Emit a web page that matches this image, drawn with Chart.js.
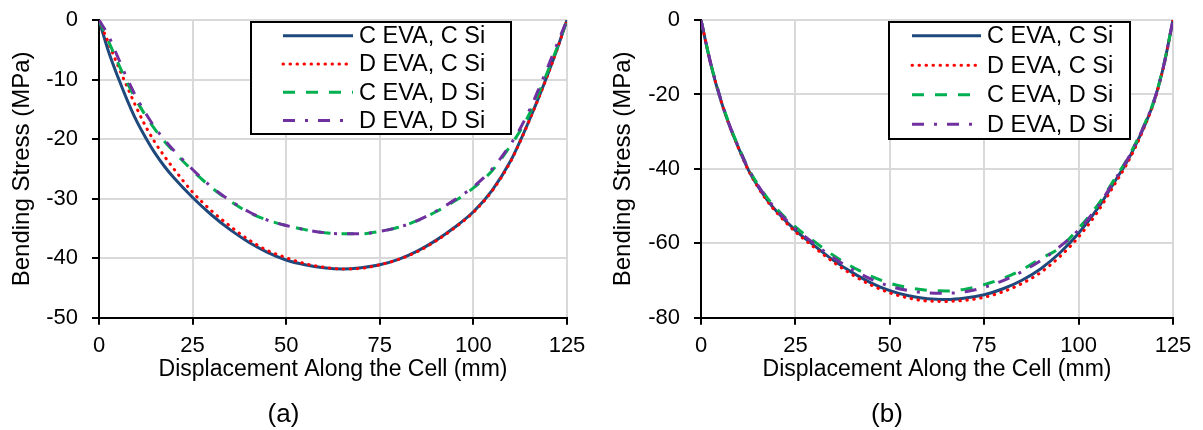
<!DOCTYPE html>
<html>
<head>
<meta charset="utf-8">
<script src="https://cdn.jsdelivr.net/npm/chart.js@4/dist/chart.umd.min.js"></script>
<style>
    body { margin: 0; background: #fff; width: 1203px; height: 430px; overflow: hidden; }
    canvas { position: absolute; top: 0; }
</style>
</head>
<body>
<canvas id="graficaA" width="601" height="430" style="left:0"></canvas>
<canvas id="graficaB" width="602" height="430" style="left:601px"></canvas>
<script>
// posiciones a lo largo de la celda (mm)
let desplazamiento = [0, 2.5, 5, 7.5, 10, 12.5, 15, 17.5, 20, 25, 30, 35, 40, 45, 50, 55, 60, 65, 70, 75, 80, 85, 90, 95, 100, 105, 110, 112.5, 115, 117.5, 120, 122.5, 125];

let etiquetas = ["C EVA, C Si", "D EVA, C Si", "C EVA, D Si", "D EVA, D Si"];

// (a) esfuerzo de flexion (MPa)
let aCEvaCSi = [0, -5.2, -9.5, -13.4, -16.9, -19.8, -22.4, -24.6, -26.5, -29.8, -32.7, -35.2, -37.3, -39, -40.3, -41.1, -41.6, -41.8, -41.6, -41.1, -40.2, -38.8, -37, -34.8, -32.2, -28.6, -23.6, -20.3, -16.7, -12.9, -8.9, -4.6, 0];
let aDEvaCSi = [0, -3.8, -7.6, -11.2, -14.7, -17.9, -20.6, -22.9, -25, -28.9, -32, -34.6, -36.9, -38.7, -39.9, -40.9, -41.5, -41.8, -41.7, -41.1, -40.2, -38.9, -37.1, -34.9, -32.3, -28.7, -23.7, -20.4, -16.8, -13, -9, -4.7, 0];
let aCEvaDSi = [0, -3.5, -7.1, -10.5, -13.5, -16.1, -18.4, -20.4, -22.1, -25.3, -28.1, -30.4, -32.3, -33.6, -34.5, -35.2, -35.7, -35.9, -35.9, -35.5, -34.8, -33.7, -32.2, -30.4, -28.2, -25.3, -21, -18.6, -15.7, -12.2, -8.4, -4.4, 0];
let aDEvaDSi = [0, -2.6, -6.2, -9.8, -13, -15.7, -18.1, -20.1, -21.9, -25.1, -28, -30.3, -32.2, -33.6, -34.5, -35.2, -35.7, -35.9, -35.9, -35.5, -34.8, -33.7, -32.1, -30.2, -28, -25, -20.8, -18.2, -15.1, -11.5, -7.7, -3.8, 0];

// (b) esfuerzo de flexion (MPa)
let bCEvaCSi = [0, -11.5, -20.8, -28.3, -34.5, -40.2, -44.6, -48.3, -51.4, -56.5, -60.6, -64.5, -67.8, -70.6, -72.7, -74.1, -74.9, -75.1, -74.7, -73.8, -72.2, -69.9, -66.8, -62.6, -57.3, -50.7, -42.7, -38.6, -33.8, -28.3, -21.8, -12.5, 0];
let bDEvaCSi = [0, -11.4, -20.7, -28.3, -34.6, -40.3, -44.8, -48.6, -51.7, -56.9, -61.1, -65, -68.4, -71.2, -73.3, -74.7, -75.5, -75.6, -75.3, -74.5, -73, -70.8, -67.8, -63.6, -58.3, -51.6, -43.4, -39.2, -34.3, -28.6, -22, -12.6, 0];
let bCEvaDSi = [0, -11.3, -20.5, -28, -34.2, -39.8, -44.1, -47.7, -50.7, -55.6, -59.5, -63.2, -66.3, -68.8, -70.7, -71.9, -72.6, -72.8, -72.3, -71.1, -69.4, -67.1, -64.1, -61.2, -56, -49.8, -42, -38, -33.3, -27.9, -21.5, -12.3, 0];
let bDEvaDSi = [0, -11.3, -20.5, -28.1, -34.3, -39.9, -44.3, -47.9, -51, -56, -60.1, -63.8, -67, -69.6, -71.5, -72.7, -73.3, -73.4, -73, -71.8, -70, -67.6, -64.6, -60.9, -56.4, -50.2, -42.3, -38.2, -33.5, -28, -21.6, -12.4, 0];

let ticksX = [0, 25, 50, 75, 100, 125];
let ticksA = [0, -10, -20, -30, -40, -50];
let ticksB = [0, -20, -40, -60, -80];

Chart.defaults.font.family = '"Liberation Sans", Arial, sans-serif';
Chart.defaults.color = '#000';

const estilos = [
    { borderColor: '#1F497D', borderDash: [], borderCapStyle: 'butt', order: 4 },
    { borderColor: '#FF0000', borderDash: [0.5, 6.5], borderCapStyle: 'round', order: 3 },
    { borderColor: '#00B050', borderDash: [12, 11], borderCapStyle: 'butt', order: 2 },
    { borderColor: '#7030A0', borderDash: [12, 10, 3, 10], borderCapStyle: 'butt', order: 1 }
];

// leyenda con marco, dibujada dentro del area
const cajaLeyenda = {
    id: 'cajaLeyenda',
    afterDraw(chart, args, o) {
        const ctx = chart.ctx;
        ctx.save();
        ctx.fillStyle = '#fff';
        ctx.fillRect(o.x, o.y, o.w, o.h);
        ctx.lineWidth = 2;
        ctx.strokeStyle = '#000';
        ctx.strokeRect(o.x, o.y, o.w, o.h);
        chart.data.datasets.forEach((ds, i) => {
            let y = o.y + o.first + i * o.step;
            ctx.beginPath();
            ctx.setLineDash(ds.borderDash);
            ctx.lineCap = ds.borderCapStyle;
            ctx.lineWidth = ds.borderWidth;
            ctx.strokeStyle = ds.borderColor;
            ctx.moveTo(o.lineX, y);
            ctx.lineTo(o.lineX + o.lineW, y);
            ctx.stroke();
            ctx.setLineDash([]);
            ctx.fillStyle = '#000';
            ctx.font = '23.5px "Liberation Sans", Arial, sans-serif';
            ctx.textBaseline = 'middle';
            ctx.fillText(ds.label, o.textX, y + 1);
        });
        ctx.restore();
    }
};

function crearGrafica(id, series, ticksY, letra, anchoY, derecha, leyenda) {
    const ctx = document.getElementById(id).getContext('2d');
    return new Chart(ctx, {
        type: 'line',
        data: {
            datasets: series.map((s, i) => Object.assign({
                label: etiquetas[i],
                data: desplazamiento.map((x, j) => ({ x: x, y: s[j] })),
                borderWidth: 3,
                pointRadius: 0,
                fill: false,
                tension: 0.4,
                cubicInterpolationMode: 'monotone'
            }, estilos[i]))
        },
        options: {
            responsive: false,
            animation: false,
            layout: { padding: { left: 0, right: derecha, top: 20, bottom: 0 } },
            plugins: {
                legend: { display: false },
                tooltip: { enabled: false },
                title: {
                    display: true,
                    position: 'bottom',
                    text: letra,
                    font: { size: 26, weight: 'normal' },
                    padding: { top: 0, bottom: 0 }
                },
                cajaLeyenda: leyenda
            },
            scales: {
                x: {
                    type: 'linear',
                    min: ticksX[0],
                    max: ticksX[ticksX.length - 1],
                    afterBuildTicks: s => { s.ticks = ticksX.map(v => ({ value: v })); },
                    ticks: { padding: 8, font: { size: 22 } },
                    grid: { color: '#D9D9D9', lineWidth: 2, tickLength: 7, tickColor: '#000', tickWidth: 2 },
                    border: { color: '#000', width: 2 },
                    title: {
                        display: true,
                        text: 'Displacement Along the Cell (mm)',
                        font: { size: 23 },
                        padding: { top: 0, bottom: 15 }
                    },
                    afterFit: s => { s.height = 81; s.paddingLeft = 0; s.paddingRight = 0; }
                },
                y: {
                    min: ticksY[ticksY.length - 1],
                    max: ticksY[0],
                    afterBuildTicks: s => { s.ticks = ticksY.map(v => ({ value: v })); },
                    ticks: { padding: 14, font: { size: 22 } },
                    grid: { color: '#D9D9D9', lineWidth: 2, tickLength: 7, tickColor: '#000', tickWidth: 2 },
                    border: { color: '#000', width: 2 },
                    title: {
                        display: true,
                        text: 'Bending Stress (MPa)',
                        font: { size: 24 },
                        padding: { top: 8, bottom: 0 }
                    },
                    afterFit: s => { s.width = anchoY; s.paddingTop = 0; s.paddingBottom = 0; }
                }
            }
        },
        plugins: [cajaLeyenda]
    });
}

crearGrafica('graficaA', [aCEvaCSi, aDEvaCSi, aCEvaDSi, aDEvaDSi], ticksA, '(a)', 99, 34,
    { x: 251, y: 22, w: 260, h: 112, first: 13.7, step: 28.3, lineX: 283, lineW: 70, textX: 359 });

crearGrafica('graficaB', [bCEvaCSi, bDEvaCSi, bCEvaDSi, bDEvaDSi], ticksB, '(b)', 100, 30,
    { x: 288, y: 22, w: 241, h: 117, first: 13.7, step: 29.5, lineX: 311, lineW: 69, textX: 386 });
</script>
</body>
</html>
